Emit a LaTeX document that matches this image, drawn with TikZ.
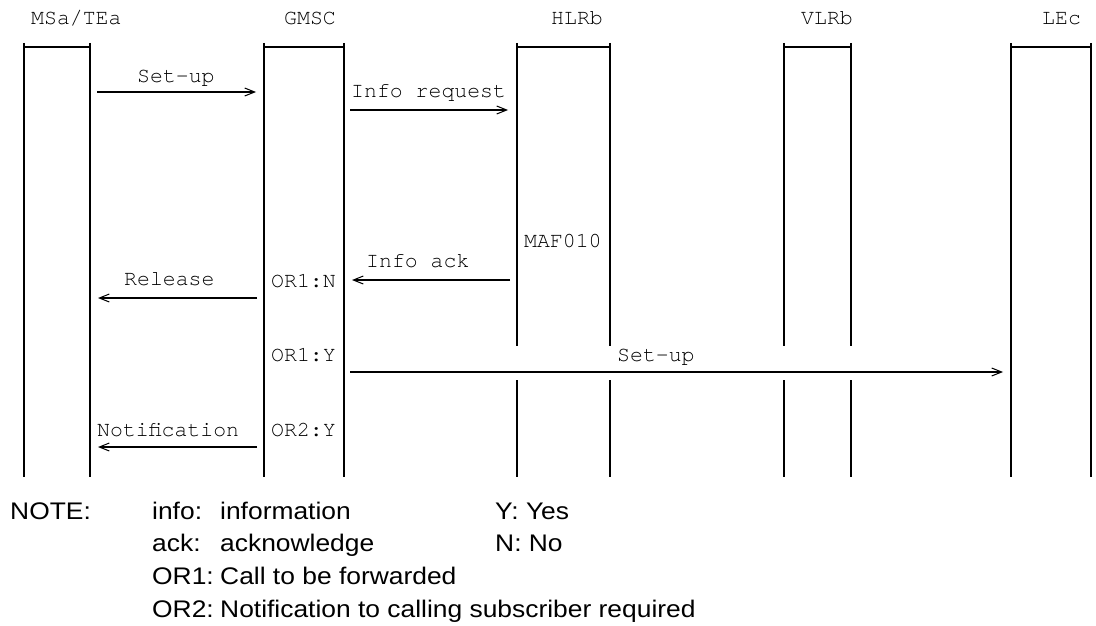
\documentclass[tikz,border=0pt]{standalone}
\usepackage{fontspec}
\usepackage{graphicx}
\newfontfamily\monof{TeX Gyre Cursor}
\newfontfamily\sansf{Liberation Sans}
\newcommand{\nwide}[1]{\scalebox{1.1}[1]{#1}}
\usetikzlibrary{arrows.meta}
\tikzset{
  life/.style={line width=1.3pt},
  msg/.style={line width=1.4pt, -{Straight Barb[length=10pt,width=8pt,line width=1pt]}},
  mtxt/.style={font=\monof\fontsize{21.5}{24}\selectfont, inner sep=0pt, anchor=base west},
  ntxt/.style={font=\sansf\fontsize{24}{28}\selectfont, inner sep=0pt, anchor=base west},
}
\begin{document}
\begin{tikzpicture}[x=1pt,y=-1pt]
\useasboundingbox (0,0) rectangle (1096,626);
% headers
\node[mtxt] (hA) at (31,25) {MSa/TEa};
\node[mtxt] (hG) at (284,25) {GMSC};
\node[mtxt] (hH) at (551,25) {HLRb};
\node[mtxt] (hV) at (801,25) {VLRb};
\node[mtxt] (hL) at (1042,25) {LEc};
% lifelines
\foreach \x in {24,90,264,344,1011,1091} {\draw[life] (\x,43) -- (\x,477);}
\foreach \x in {517,610,784,851} {\draw[life] (\x,43) -- (\x,346); \draw[life] (\x,380) -- (\x,477);}
\draw[life] (24,47) -- (90,47);
\draw[life] (264,47) -- (344,47);
\draw[life] (517,47) -- (610,47);
\draw[life] (784,47) -- (851,47);
\draw[life] (1011,47) -- (1091,47);
% message end points
\coordinate (m1s) at (97,92);   \coordinate (m1e) at (256,92);
\coordinate (m2s) at (350,110); \coordinate (m2e) at (508,110);
\coordinate (m3s) at (510,280); \coordinate (m3e) at (352,280);
\coordinate (m4s) at (257,298); \coordinate (m4e) at (98,298);
\coordinate (m5s) at (350,372); \coordinate (m5e) at (1003,372);
\coordinate (m6s) at (257,447); \coordinate (m6e) at (98,447);
\draw[msg] (m1s) -- (m1e);
\draw[msg] (m2s) -- (m2e);
\draw[msg] (m3s) -- (m3e);
\draw[msg] (m4s) -- (m4e);
\draw[msg] (m5s) -- (m5e);
\draw[msg] (m6s) -- (m6e);
% labels
\node[mtxt] (t1) at (137,82) {Set-up};
\node[mtxt] (t2) at (351,98) {Info request};
\node[mtxt] (t3) at (366,267) {Info ack};
\node[mtxt] (t4) at (524,247) {MAF010};
\node[mtxt] (t5) at (271,287) {OR1:N};
\node[mtxt] (t6) at (124,285) {Release};
\node[mtxt] (t7) at (271,361) {OR1:Y};
\node[mtxt] (t8) at (617,361) {Set-up};
\node[mtxt] (t9) at (271,436) {OR2:Y};
\node[mtxt] (t10) at (97,436) {Notification};
% note
\node[ntxt] (n0) at (10,519) {\nwide{NOTE:}};
\node[ntxt] (n1) at (152,519) {\nwide{info:}};
\node[ntxt] (n2) at (220,519) {\nwide{information}};
\node[ntxt] (n3) at (495,519) {\nwide{Y: Yes}};
\node[ntxt] (n4) at (152,551.5) {\nwide{ack:}};
\node[ntxt] (n5) at (220,551.5) {\nwide{acknowledge}};
\node[ntxt] (n6) at (495,551.5) {\nwide{N: No}};
\node[ntxt] (n7) at (152,584) {\nwide{OR1:}};
\node[ntxt] (n8) at (220,584) {\nwide{Call to be forwarded}};
\node[ntxt] (n9) at (152,617) {\nwide{OR2:}};
\node[ntxt] (n10) at (220,617) {\nwide{Notification to calling subscriber required}};
\end{tikzpicture}
\end{document}
